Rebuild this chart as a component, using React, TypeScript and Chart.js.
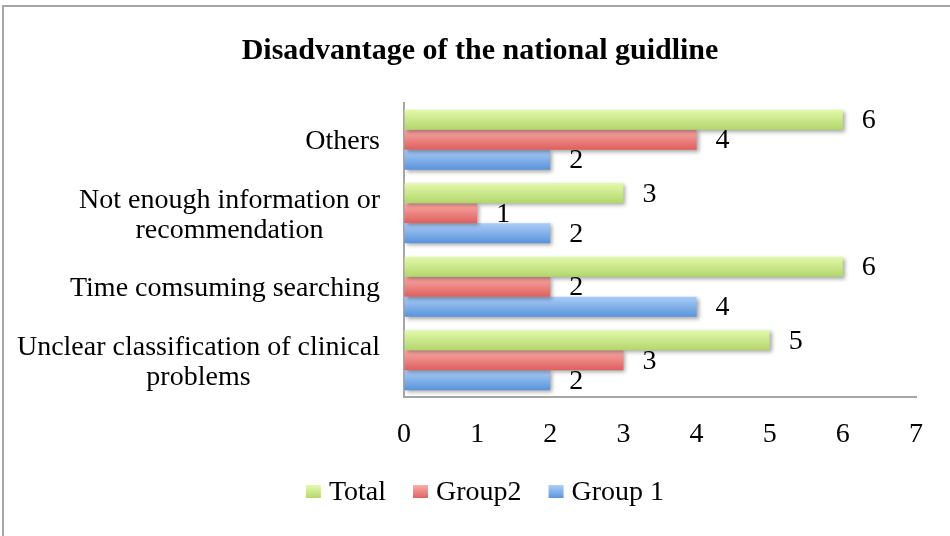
import React, { useEffect, useRef } from "react";
import { Chart, registerables } from "chart.js";

Chart.register(...registerables);

const TITLE = "Disadvantage of the national guidline";
const categories: string[][] = [
  ["Others"],
  ["Not enough information or", "recommendation"],
  ["Time comsuming searching"],
  ["Unclear classification of clinical", "problems"],
];
const seriesNames = ["Total", "Group2", "Group 1"];
const totalValues = [6, 3, 6, 5];
const group2Values = [4, 1, 2, 3];
const group1Values = [2, 2, 4, 2];
const xTicks = [0, 1, 2, 3, 4, 5, 6, 7];

const FONT = "'Liberation Serif', 'Times New Roman', serif";

const GRADS: Record<string, [string, string, string]> = {
  Total: ["#e2f9ab", "#b3d66b", "#c6e68a"],
  Group2: ["#fbaaa7", "#dd605d", "#ee8583"],
  "Group 1": ["#abcdf8", "#5894da", "#80b1ea"],
};

const vGrad = (ctx: CanvasRenderingContext2D, name: string, y0: number, y1: number) => {
  const g = GRADS[name];
  const grad = ctx.createLinearGradient(0, y0, 0, y1);
  grad.addColorStop(0, g[0]);
  grad.addColorStop(1, g[1]);
  return grad;
};

const decorPlugin = {
  id: "decor",
  beforeDatasetsDraw(chart: any) {
    const ctx = chart.ctx;
    chart.getSortedVisibleDatasetMetas().forEach((meta: any) => {
      const label = chart.data.datasets[meta.index].label;
      meta.data.forEach((el: any) => {
        const h = el.height;
        el.options = { ...el.options, backgroundColor: vGrad(ctx, label, el.y - h / 2, el.y + h / 2) };
      });
    });
    ctx.save();
    ctx.shadowColor = "rgba(0,0,0,0.35)";
    ctx.shadowBlur = 4;
    ctx.shadowOffsetX = 2;
    ctx.shadowOffsetY = 2;
  },
  afterDatasetsDraw(chart: any) {
    const ctx = chart.ctx;
    ctx.restore();
    ctx.save();
    ctx.font = `28px ${FONT}`;
    ctx.fillStyle = "#000";
    ctx.textAlign = "left";
    ctx.textBaseline = "middle";
    // value labels
    chart.getSortedVisibleDatasetMetas().forEach((meta: any) => {
      const ds = chart.data.datasets[meta.index];
      meta.data.forEach((el: any, i: number) => {
        ctx.fillText(String(ds.data[i]), el.x + 19, el.y + 1);
      });
    });
    // category labels
    const yScale = chart.scales.y;
    const right = chart.chartArea.left - 24;
    categories.forEach((lines, i) => {
      const cy = yScale.getPixelForValue(i);
      const bw = Math.max(...lines.map((l) => ctx.measureText(l).width));
      ctx.textAlign = "center";
      lines.forEach((l, j) => {
        const y = cy + (j - (lines.length - 1) / 2) * 30 + 2;
        ctx.fillText(l, right - bw / 2, y);
      });
    });
    // title
    ctx.font = `bold 30px ${FONT}`;
    ctx.textAlign = "center";
    ctx.fillText(TITLE, 480, 51);
    // legend
    ctx.font = `28px ${FONT}`;
    const boxW = 15, boxH = 13, textOff = 23, gap = 27;
    const widths = seriesNames.map((n) => ctx.measureText(n).width);
    const total = widths.reduce((a, w) => a + textOff + w, 0) + gap * (seriesNames.length - 1);
    let x = 485 - total / 2;
    const ly = 492;
    ctx.textAlign = "left";
    seriesNames.forEach((n, i) => {
      ctx.fillStyle = vGrad(ctx, n, ly - boxH / 2, ly + boxH / 2);
      ctx.fillRect(x, ly - boxH / 2 - 0.5, boxW, boxH);
      ctx.fillStyle = "#000";
      ctx.fillText(n, x + textOff, ly + 1);
      x += textOff + widths[i] + gap;
    });
    ctx.restore();
  },
};

export default function App() {
  const ref = useRef<HTMLCanvasElement | null>(null);
  useEffect(() => {
    if (!ref.current) return;
    const mk = (label: string, data: number[]) => ({
      label,
      data,
      backgroundColor: GRADS[label][2],
      borderWidth: 0,
      categoryPercentage: 0.815,
      barPercentage: 1,
    });
    const chart = new Chart(ref.current, {
      type: "bar",
      data: {
        labels: categories.map((c) => c.join(" ")),
        datasets: [
          mk(seriesNames[0], totalValues),
          mk(seriesNames[1], group2Values),
          mk(seriesNames[2], group1Values),
        ],
      },
      options: {
        indexAxis: "y",
        animation: false,
        responsive: false,
        layout: { padding: { left: 0, right: 34, top: 103, bottom: 82 } },
        scales: {
          x: {
            min: 0,
            max: 7,
            afterBuildTicks: (s: any) => {
              s.ticks = xTicks.map((v) => ({ value: v }));
            },
            afterFit: (s: any) => {
              s.height = 57;
            },
            grid: { color: "transparent", drawTicks: false },
            border: { display: true, color: "#a6a6a6", width: 2 },
            ticks: { color: "#000", font: { family: FONT, size: 28 }, padding: 21 },
          },
          y: {
            afterFit: (s: any) => {
              s.width = 404;
            },
            grid: { color: "transparent", drawTicks: false },
            border: { display: true, color: "#a6a6a6", width: 2 },
            ticks: { display: false },
          },
        },
        plugins: {
          title: { display: false },
          legend: { display: false },
          tooltip: { enabled: false },
        },
      },
      plugins: [decorPlugin],
    } as any);
    return () => chart.destroy();
  }, []);
  return (
    <div
      style={{
        position: "fixed",
        left: 0,
        top: 0,
        width: 950,
        height: 536,
        overflow: "hidden",
        background: "#fff",
      }}
    >
      <canvas ref={ref} width={950} height={536} style={{ display: "block" }} />
      <div
        style={{
          position: "absolute",
          left: 2,
          top: 5,
          width: 980,
          height: 580,
          border: "2px solid #a6a6a6",
          boxSizing: "border-box",
          pointerEvents: "none",
        }}
      />
    </div>
  );
}
